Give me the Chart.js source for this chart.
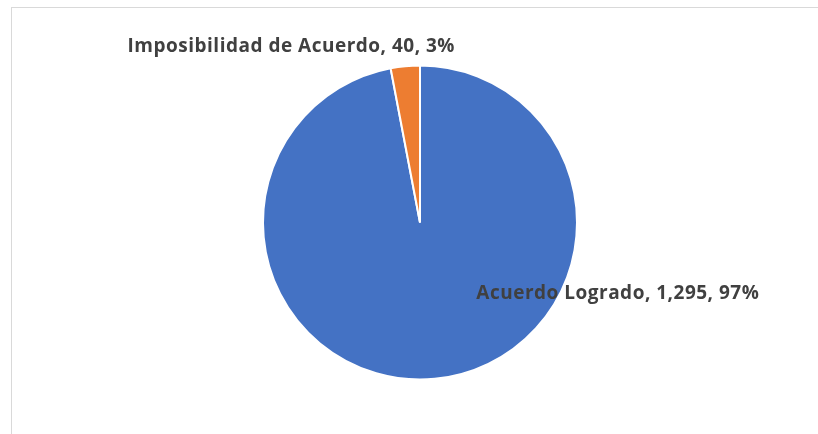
<!DOCTYPE html>
<html>
<head>
<meta charset="utf-8">
<script src="https://cdn.jsdelivr.net/npm/chart.js@4.4.0/dist/chart.umd.min.js"></script>
<style>
  html, body { margin: 0; padding: 0; background: #fff; }
  #wrap { position: relative; width: 818px; height: 434px; }
  #frame { position: absolute; left: 11px; top: 7px; width: 820px; height: 440px; border: 1px solid #d9d9d9; box-sizing: border-box; }
  #myChart { position: absolute; left: 0; top: 0; }
</style>
</head>
<body>
<div id="wrap">
  <div id="frame"></div>
  <canvas id="myChart" width="818" height="434"></canvas>
</div>
<script>
// dati del grafico
var categorie = ["Acuerdo Logrado", "Imposibilidad de Acuerdo"];
var valori = [1295, 40];
var colori = ["#4472C4", "#ED7D31"];

// posizione delle etichette rispetto al centro (in frazioni del raggio)
var posEtichette = [[1.26, 0.45], [-0.82, -1.12]];

//Plugin per scrivere le etichette "nome, valore, percentuale"
var etichettePlugin = {
  id: "etichette",
  afterDatasetsDraw: function (chart) {
    var ctx = chart.ctx;
    var meta = chart.getDatasetMeta(0);
    var totale = 0;
    for (var i = 0; i < valori.length; i++) {
      totale += valori[i];
    }
    ctx.save();
    ctx.font = "bold 19px 'Open Sans', sans-serif";
    ctx.letterSpacing = "0.5px";
    ctx.fillStyle = "#404040";
    ctx.textAlign = "center";
    ctx.textBaseline = "middle";
    for (var j = 0; j < meta.data.length; j++) {
      var arc = meta.data[j];
      var r = arc.outerRadius;
      var perc = Math.round(valori[j] / totale * 100);
      var testo = categorie[j] + ", " + valori[j].toLocaleString("en-US") + ", " + perc + "%";
      ctx.fillText(testo, arc.x + posEtichette[j][0] * r, arc.y + posEtichette[j][1] * r);
    }
    ctx.restore();
  }
};

var ctx = document.getElementById('myChart').getContext('2d');
var chart = new Chart(ctx, {
  type: 'pie',
  data: {
    labels: categorie,
    datasets: [{
      data: valori,
      backgroundColor: colori,
      borderColor: '#ffffff',
      borderWidth: 2
    }]
  },
  options: {
    responsive: false,
    animation: false,
    layout: {
      padding: { left: 262, right: 240, top: 64, bottom: 53 }
    },
    plugins: {
      legend: { display: false },
      tooltip: { enabled: false }
    }
  },
  plugins: [etichettePlugin]
});
</script>
</body>
</html>
